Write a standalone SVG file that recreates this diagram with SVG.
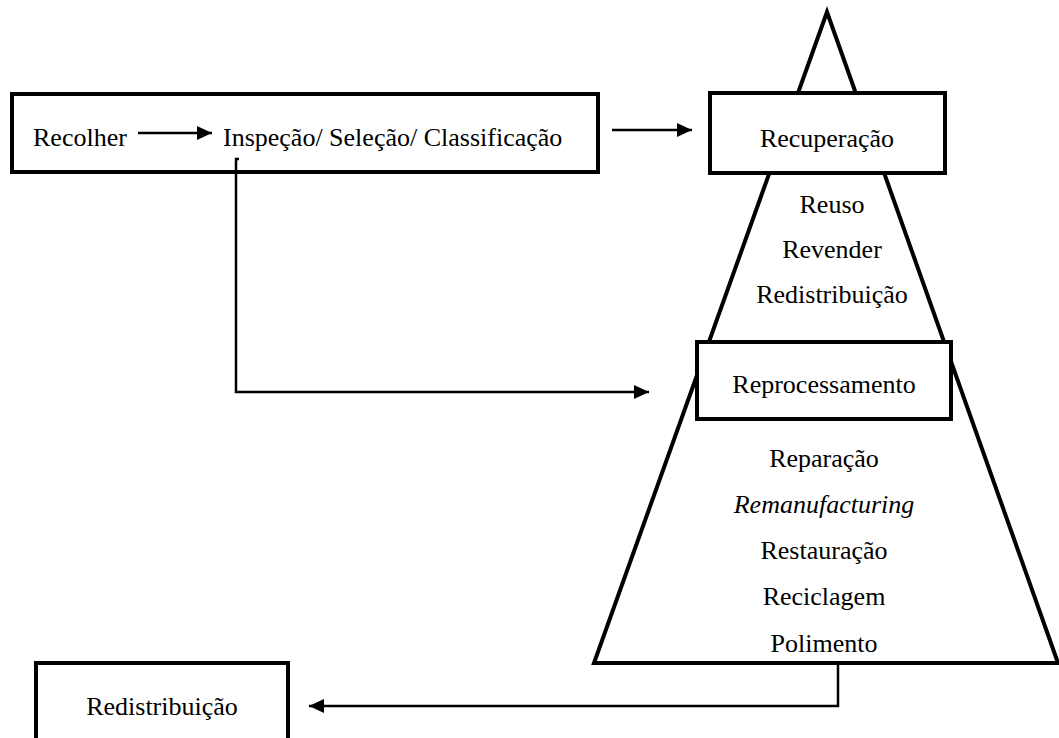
<svg xmlns="http://www.w3.org/2000/svg" width="1059" height="738" viewBox="0 0 1059 738">
<style>
.box{fill:#fff;stroke:#000;stroke-width:4}
.tri{fill:#fff;stroke:#000;stroke-width:4;stroke-linejoin:miter}
text{font-family:'Liberation Serif','Times New Roman',serif;font-size:26px;fill:#000}
.c{text-anchor:middle}
.i{font-style:italic}
.con{fill:none;stroke:#000;stroke-width:2.5}
</style>
<defs>
<marker id="ah" markerUnits="userSpaceOnUse" markerWidth="16" markerHeight="15" refX="15" refY="7" orient="auto">
<path d="M0,0 L15,7 L0,14 z" fill="#000"/>
</marker>
</defs>
<rect width="1059" height="738" fill="#fff"/>
<g id="pyramid">
<polygon class="tri" points="827,12 594,663 1058,663"/>
</g>
<g id="box-recolha">
<rect class="box" x="12" y="94" width="586" height="78"/>
<text x="33" y="146">Recolher</text>
<text x="223" y="146">Inspeção/ Seleção/ Classificação</text>
</g>
<g id="box-recuperacao">
<rect class="box" x="710" y="93" width="235" height="80"/>
<text class="c" x="827" y="147">Recuperação</text>
</g>
<g id="recuperacao-items">
<text class="c" x="832" y="213">Reuso</text>
<text class="c" x="832" y="258">Revender</text>
<text class="c" x="832" y="303">Redistribuição</text>
</g>
<g id="box-reprocessamento">
<rect class="box" x="697" y="342" width="254" height="77"/>
<text class="c" x="824" y="393">Reprocessamento</text>
</g>
<g id="reprocessamento-items">
<text class="c" x="824" y="467">Reparação</text>
<text class="c i" x="824" y="513">Remanufacturing</text>
<text class="c" x="824" y="559">Restauração</text>
<text class="c" x="824" y="605">Reciclagem</text>
<text class="c" x="824" y="652">Polimento</text>
</g>
<g id="box-redistribuicao">
<rect class="box" x="36" y="663" width="252" height="90"/>
<text class="c" x="162" y="715">Redistribuição</text>
</g>
<g id="connectors">
<line class="con" x1="138" y1="133" x2="212" y2="133" marker-end="url(#ah)"/>
<line class="con" x1="612" y1="130" x2="692" y2="130" marker-end="url(#ah)"/>
<path class="con" d="M239,159 L236,159 L236,392 L649,392" marker-end="url(#ah)"/>
<path class="con" d="M838,664 L838,706 L309,706" marker-end="url(#ah)"/>
</g>
</svg>
